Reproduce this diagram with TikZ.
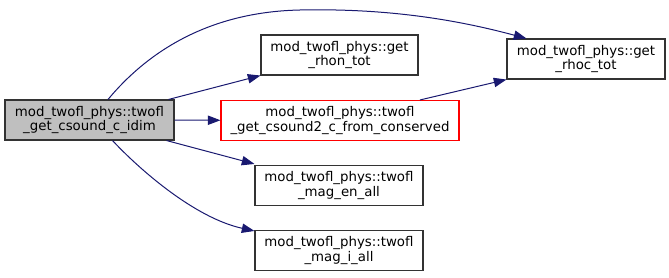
\documentclass[tikz,border=0pt]{standalone}
\usepackage{fontspec}
\setmainfont{DejaVu Sans}
\usepackage{tikz}
\usetikzlibrary{arrows.meta,positioning,calc}
\usepackage{xcolor}
\definecolor{EdgeBlue}{HTML}{191970}
\definecolor{MainGray}{HTML}{BFBFBF}
\definecolor{CallRed}{HTML}{FF0000}

\begin{document}
\begin{tikzpicture}[x=0.75pt,y=-0.75pt,>={Triangle[length=9.5pt,width=7pt]},
  fn/.style={draw=black!80,fill=white,line width=0.8pt,inner sep=0pt,minimum height=30pt,align=center,font=\fontsize{10}{11}\selectfont},
  edge/.style={->,draw=EdgeBlue,fill=none,line width=0.75pt}]
\useasboundingbox (0,0) rectangle (669,278);
\node[fn,fill=MainGray,minimum width=126.75pt] (main) at (89.5,120) {mod\_twofl\_phys::twofl\\\_get\_csound\_c\_idim};
\node[fn,minimum width=117.75pt] (rhon) at (339.5,55) {mod\_twofl\_phys::get\\\_rhon\_tot};
\node[fn,draw=CallRed,minimum width=178.5pt] (cs2) at (340,120.5) {mod\_twofl\_phys::twofl\\\_get\_csound2\_c\_from\_conserved};
\node[fn,minimum width=126pt] (magen) at (339,185.5) {mod\_twofl\_phys::twofl\\\_mag\_en\_all};
\node[fn,minimum width=126pt] (magi) at (339,250.5) {mod\_twofl\_phys::twofl\\\_mag\_i\_all};
\node[fn,minimum width=118.5pt] (rhoc) at (586,59) {mod\_twofl\_phys::get\\\_rhoc\_tot};
% calls
\draw[edge] ($(main.north)+(18.5,0)$) .. controls (145,55) and (205,12) .. (300,10)
  .. controls (395,8) and (465,22) .. ($(rhoc.north west)+(20,0)$);
\draw[edge] ($(main.north east)+(-6,0)$) -- (rhon.south west);
\draw[edge] (main) -- (cs2);
\draw[edge] ($(cs2.north)+(80,0)$) -- (rhoc.south west);
\draw[edge] ($(main.south east)+(-8,0)$) -- ($(magen.north west)+(0,-1)$);
\draw[edge] ($(main.south)+(23,0)$) .. controls (140,170) and (195,218) .. ($(magi.north west)+(0,1)$);
\end{tikzpicture}
\end{document}
